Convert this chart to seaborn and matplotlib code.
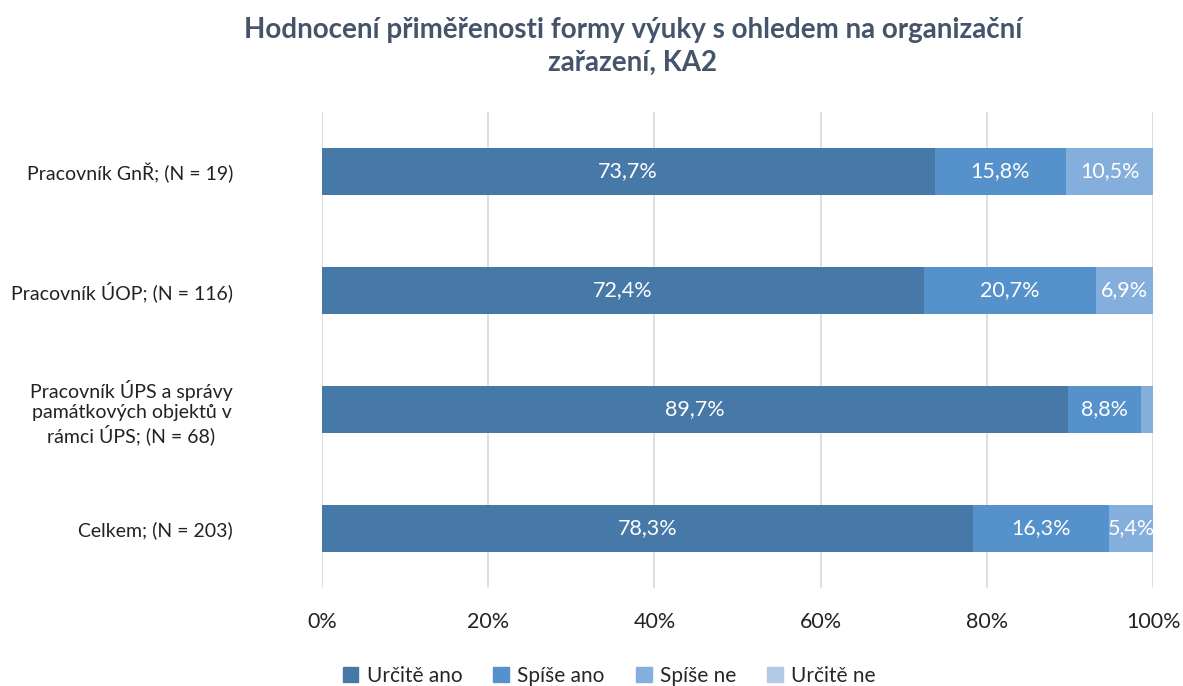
import numpy as np
import pandas as pd
import seaborn as sns
import matplotlib.pyplot as plt

categories = ['Pracovník GnŘ; (N = 19)',
              'Pracovník ÚOP; (N = 116)',
              'Pracovník ÚPS a správy\npamátkových objektů v\nrámci ÚPS; (N = 68)',
              'Celkem; (N = 203)']
series_names = ['Určitě ano', 'Spíše ano', 'Spíše ne', 'Určitě ne']
urcite_ano = [73.7, 72.4, 89.7, 78.3]
spise_ano = [15.8, 20.7, 8.8, 16.3]
spise_ne = [10.5, 6.9, 1.5, 5.4]
urcite_ne = [0.0, 0.0, 0.0, 0.0]
colors = ['#4679A8', '#5591CA', '#84AEDC', '#B4C9E6']
x_ticks = [0, 20, 40, 60, 80, 100]


def main():
    sns.set_style('white')
    plt.rcParams['font.family'] = ['Lato', 'DejaVu Sans']
    fig = plt.figure(figsize=(11.83, 6.86), dpi=100)
    ax = fig.add_axes([0.272, 0.143, 0.703, 0.694])

    values = [urcite_ano, spise_ano, spise_ne, urcite_ne]
    df = pd.DataFrame(dict(zip(series_names, values)), index=categories)
    cum = df.cumsum(axis=1)
    # Draw the stacked bars from the longest (total) to the shortest
    for name, color in reversed(list(zip(series_names, colors))):
        sns.barplot(x=cum[name].values, y=categories, orient='h', color=color,
                    width=0.39, ax=ax, saturation=1, linewidth=0)

    # Data labels (white, centered in each segment)
    for i, cat in enumerate(categories):
        left = 0
        for name in series_names:
            v = df.loc[cat, name]
            if v >= 3:
                ax.text(left + v / 2, i, f'{v:.1f}%'.replace('.', ','), ha='center', va='center',
                        color='white', fontsize=15.5)
            left += v

    ax.set_xlim(0, 100)
    ax.set_ylim(3.5, -0.5)
    ax.set_xticks(x_ticks)
    ax.set_xticklabels([f'{t}%' for t in x_ticks], fontsize=15.5, color='#222222')
    ax.tick_params(axis='x', length=0, pad=17)
    ax.tick_params(axis='y', length=0, pad=64)
    for lab in ax.get_yticklabels():
        lab.set_fontsize(14)
        lab.set_multialignment('center')
        lab.set_color('#222222')
    ax.xaxis.grid(True, color='#D9D9D9', linewidth=1.2)
    ax.set_axisbelow(True)
    for s in ax.spines.values():
        s.set_visible(False)
    ax.set_xlabel('')
    ax.set_ylabel('')

    fig.text(0.535, 0.975, 'Hodnocení přiměřenosti formy výuky s ohledem na organizační\nzařazení, KA2',
             ha='center', va='top', fontsize=20, weight='bold', color='#44546A', linespacing=1.3)

    handles = [plt.Rectangle((0, 0), 1, 1, color=c) for c in colors]
    fig.legend(handles, series_names, loc='center', bbox_to_anchor=(0.515, 0.015), ncol=4,
               frameon=False, fontsize=15, handlelength=0.75, handleheight=0.75,
               handletextpad=0.4, columnspacing=1.5)

    fig.savefig('out.png', dpi=100)


if __name__ == '__main__':
    main()
